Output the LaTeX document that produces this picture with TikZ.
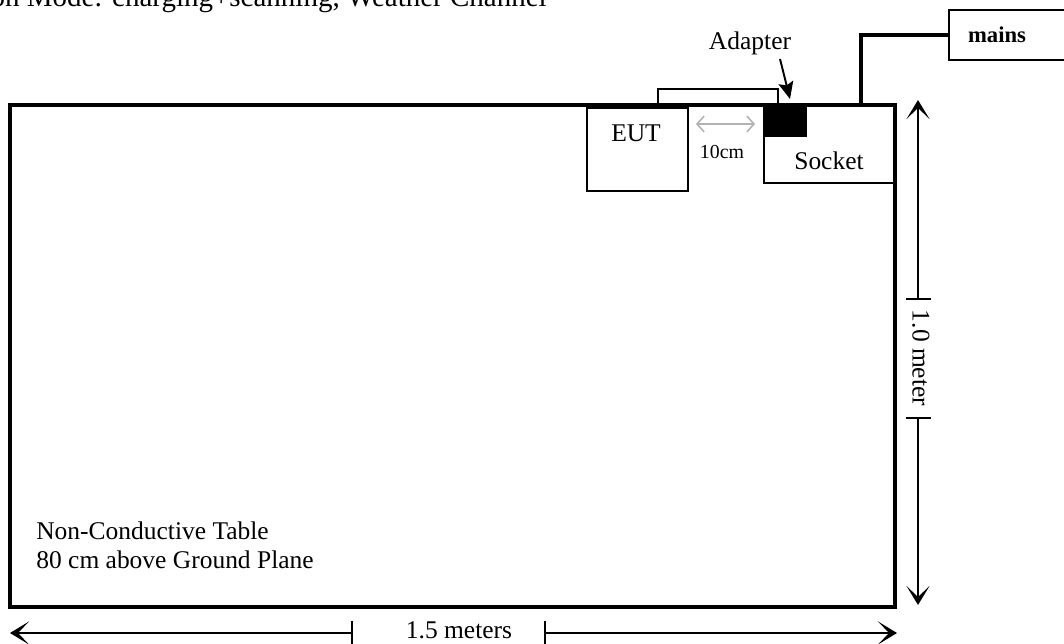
\documentclass[tikz,border=0pt]{standalone}
\usepackage{fontspec}
\setmainfont{Liberation Serif}
\usetikzlibrary{arrows.meta}
\usetikzlibrary{positioning}

\begin{document}
\begin{tikzpicture}[
        x=0.02cm, y=-0.02cm,
        every node/.style={inner sep=0pt, font=\fontsize{14.5}{16}\selectfont},
        thickline/.style={line width=2.3pt},
        thinline/.style={line width=1.1pt},
        box/.style={draw, thinline, anchor=north west},
        dimline/.style={line width=1.1pt, {Stealth[length=0.38cm,width=0.46cm,inset=0.22cm]}-{Bar[width=0.5cm]}}]

        \useasboundingbox (0,0) rectangle (1064,644);

        \node[anchor=base east, font=\fontsize{16.5}{18}\selectfont] (mode) at (547,7) {on Mode: charging+scanning, Weather Channel};

        \node[box, minimum width=2.02cm, minimum height=1.66cm] (EUT) at (586,107) {};
        \node (EUTtext) at (636,133) {EUT};
        \node[box, minimum width=2.64cm, minimum height=1.54cm] (Socket) at (763,105) {};
        \node (Sockettext) at (829,161) {Socket};
        \node[box, fill=black, minimum width=0.84cm, minimum height=0.6cm] (Adapter) at (763,105) {};
        \node (Adaptertext) at (750,43) {Adapter};
        \node[box, minimum width=2.54cm, minimum height=1cm] (mains) at (948,9) {};
        \node[font=\fontsize{12.9}{14}\selectfont\bfseries] (mainstext) at (997,35) {mains};

        \coordinate (cableA) at (658,105);
        \coordinate (cableB) at (778,105);
        \coordinate (plug) at (861,105);
        \coordinate (adtail) at (780,59);
        \coordinate (adtip) at (790,99);
        \coordinate (gapL) at (696,124);
        \coordinate (gapR) at (755,124);

        \draw[thinline] (cableA) -- ++(0,-16) -| (cableB);
        \draw[thickline] (plug) |- (mains.west);
        \draw[thinline, -{Stealth[length=0.34cm,width=0.3cm,inset=0.06cm]}] (adtail) -- (adtip);
        \draw[gray!60, line width=0.9pt, {Straight Barb[length=4pt,width=9pt]}-{Straight Barb[length=4pt,width=9pt]}] (gapL) -- (gapR);
        \node[font=\fontsize{11.3}{13}\selectfont] (gap) at (722,152) {10cm};

        % table
        \draw[thickline] (10,105) rectangle (895,607);
        \node[anchor=base west] (tabletext) at (36,540) {Non-Conductive Table};
        \node[anchor=base west] (heighttext) at (36,568) {80 cm above Ground Plane};

        % dimensions
        \coordinate (vtop) at (918,100);
        \coordinate (vbot) at (918,605);
        \coordinate (vtickA) at (918,300);
        \coordinate (vtickB) at (918,417);
        \draw[dimline] (vtop) -- (vtickA);
        \draw[dimline] (vbot) -- (vtickB);
        \node[rotate=-90] (height) at (921,358) {1.0 meter};

        \coordinate (hleft) at (10,633);
        \coordinate (hright) at (897,633);
        \coordinate (htickA) at (353,633);
        \coordinate (htickB) at (544,633);
        \draw[dimline] (hleft) -- (htickA);
        \draw[dimline] (hright) -- (htickB);
        \node (width) at (459,630) {1.5 meters};

    \end{tikzpicture}
\end{document}
